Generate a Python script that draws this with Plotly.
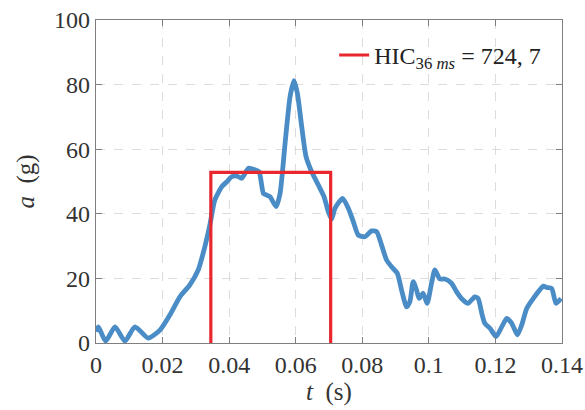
import plotly.graph_objects as go

t_s = [0.0, 0.0007, 0.0029, 0.0057, 0.0087, 0.0117, 0.0157, 0.0192, 0.0222, 0.0252,
       0.0282, 0.0307, 0.0327, 0.0342, 0.0357, 0.0378, 0.0393, 0.0408, 0.0423, 0.0438,
       0.0458, 0.0478, 0.049, 0.0503, 0.0513, 0.0523, 0.0541, 0.0553, 0.0568, 0.0583,
       0.0595, 0.0605, 0.0618, 0.0631, 0.0648, 0.0668, 0.0685, 0.0698, 0.0708, 0.0718,
       0.0741, 0.0758, 0.0773, 0.0788, 0.0808, 0.0828, 0.0843, 0.0858, 0.0873, 0.0888,
       0.0905, 0.0918, 0.0933, 0.0943, 0.0953, 0.0963, 0.0971, 0.0983, 0.0995, 0.1008,
       0.1018, 0.1033, 0.1048, 0.1068, 0.1083, 0.1098, 0.1118, 0.1138, 0.1148, 0.1159,
       0.1168, 0.1184, 0.1202, 0.1219, 0.1234, 0.1249, 0.1266, 0.1279, 0.1294, 0.1314,
       0.1329, 0.1344, 0.1354, 0.1369, 0.1382, 0.1397]
accel_g = [3.5, 5, 0.6, 5, 0.6, 5, 1.5, 4, 8.7, 14.3,
           18, 22.6, 29.8, 36.5, 44.3, 48.4, 49.9, 51.5, 51.7, 51,
           54.1, 53.6, 53, 46.3, 45.8, 45.3, 42.2, 46.3, 61.8, 76.3,
           81.2, 77.3, 67, 57.7, 53, 48.9, 45.3, 40.6, 38.4, 41.7,
           44.8, 41.7, 37.6, 33.4, 32.9, 34.7, 34.5, 30.3, 25.7, 23.6,
           21.6, 16.4, 11.2, 12.8, 19, 16.4, 13.8, 15.4, 12.3, 18.5,
           22.6, 19.8, 19.8, 18.5, 15.9, 13.8, 12.3, 14.3, 13.8, 9.2,
           6.1, 4.5, 2, 5, 7.6, 6.1, 2.5, 5.6, 10.7, 13.8,
           15.9, 17.6, 17.2, 16.9, 12.3, 13.8]

hic_t1 = 0.0345
hic_t2 = 0.0705
hic_level = 52.8
hic_label = "HIC<sub>36 <i>ms</i></sub>&nbsp;=&nbsp;724,&nbsp;7"

x_ticks = [0, 0.02, 0.04, 0.06, 0.08, 0.1, 0.12, 0.14]
x_ticklabels = ["0", "0.02", "0.04", "0.06", "0.08", "0.1", "0.12", "0.14"]
y_ticks = [0, 20, 40, 60, 80, 100]

FONT = "Liberation Serif"
BLUE = "#4a8cc6"
RED = "#e8272f"

fig = go.Figure()
fig.add_trace(go.Scatter(
    x=t_s, y=accel_g, mode="lines",
    line=dict(color=BLUE, width=4.8, shape="spline", smoothing=0.6),
    showlegend=False, hoverinfo="skip"))
fig.add_trace(go.Scatter(
    x=[hic_t1, hic_t1, hic_t2, hic_t2], y=[0, hic_level, hic_level, 0],
    mode="lines", line=dict(color=RED, width=3.2), name=hic_label,
    showlegend=True))

axis_common = dict(
    showline=True, linecolor="#7f7f7f", linewidth=1.3, mirror="ticks",
    ticks="inside", ticklen=6, tickcolor="#7f7f7f", tickwidth=1,
    showgrid=True, gridcolor="#dcdcdc", griddash="dash", gridwidth=1,
    zeroline=False, automargin=False,
    tickfont=dict(family=FONT, size=24, color="#333333"))

fig.update_xaxes(range=[0, 0.14], tickvals=x_ticks, ticktext=x_ticklabels,
                 title=dict(text="<i>t</i>&nbsp;&nbsp;(s)", font=dict(family=FONT, size=25, color="#333333"), standoff=4),
                 **axis_common)
fig.update_yaxes(range=[0, 100], tickvals=y_ticks,
                 title=dict(text="<i>a</i>&nbsp;&nbsp;(g)", font=dict(family=FONT, size=25, color="#333333"), standoff=12),
                 **axis_common)

fig.update_layout(
    width=585, height=410,
    margin=dict(l=96, r=23, t=20, b=67),
    plot_bgcolor="white", paper_bgcolor="white",
    legend=dict(x=0.966, y=0.96, xanchor="right", yanchor="top",
                bgcolor="rgba(255,255,255,0)", borderwidth=0,
                font=dict(family=FONT, size=24, color="#222222"),
                itemwidth=30, tracegroupgap=0),
)

fig.write_html("out.html", config={"displayModeBar": False},
               post_script="document.body.style.margin='0';document.body.style.overflow='hidden';")
